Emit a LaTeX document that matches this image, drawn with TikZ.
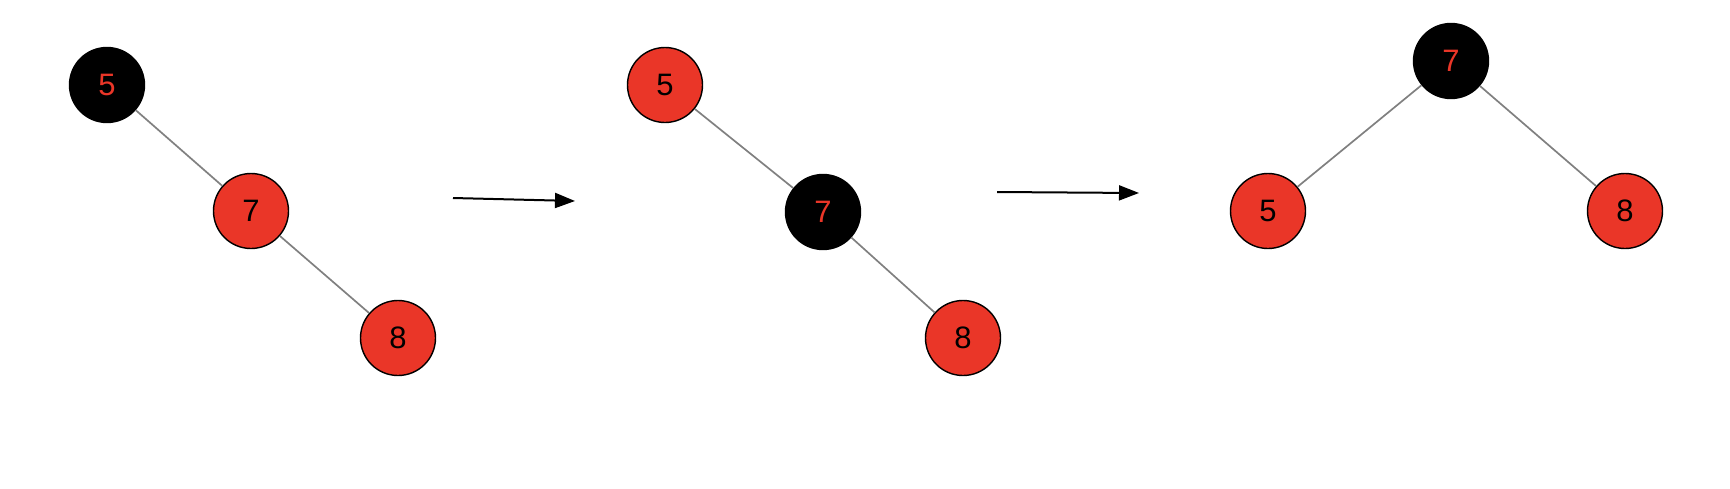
\documentclass[tikz,border=0pt]{standalone}
\usepackage{fontspec}
\setmainfont{Liberation Sans}
\usetikzlibrary{arrows.meta}
\definecolor{rbred}{RGB}{234,54,40}
\tikzset{
  nd/.style={circle, minimum size=75pt, inner sep=0pt, draw=black, line width=1.4pt, font=\fontsize{31}{33}\selectfont},
  rn/.style={nd, fill=rbred, text=black},
  bn/.style={nd, fill=black, text=rbred},
  edg/.style={draw=black!50, line width=1.7pt},
  arr/.style={line width=2pt, -{Triangle[length=20pt,width=15pt]}},
}
\begin{document}
\begin{tikzpicture}[x=1pt,y=-1pt]
\useasboundingbox (0,0) rectangle (1730,488);
% before
\node[bn] (a5) at (107,85) {5};
\node[rn] (a7) at (251,211) {7};
\node[rn] (a8) at (398,338) {8};
\draw[edg] (a5) -- (a7);
\draw[edg] (a7) -- (a8);
% recolor
\coordinate (p1) at (453,198);
\coordinate (q1) at (575,201);
\draw[arr] (p1) -- (q1);
\node[rn] (b5) at (665,85) {5};
\node[bn] (b7) at (823,212) {7};
\node[rn] (b8) at (963,338) {8};
\draw[edg] (b5) -- (b7);
\draw[edg] (b7) -- (b8);
% rotate
\coordinate (p2) at (997,192);
\coordinate (q2) at (1139,193);
\draw[arr] (p2) -- (q2);
\node[bn] (c7) at (1451,61) {7};
\node[rn] (c5) at (1268,211) {5};
\node[rn] (c8) at (1625,211) {8};
\draw[edg] (c7) -- (c5);
\draw[edg] (c7) -- (c8);
\end{tikzpicture}
\end{document}
